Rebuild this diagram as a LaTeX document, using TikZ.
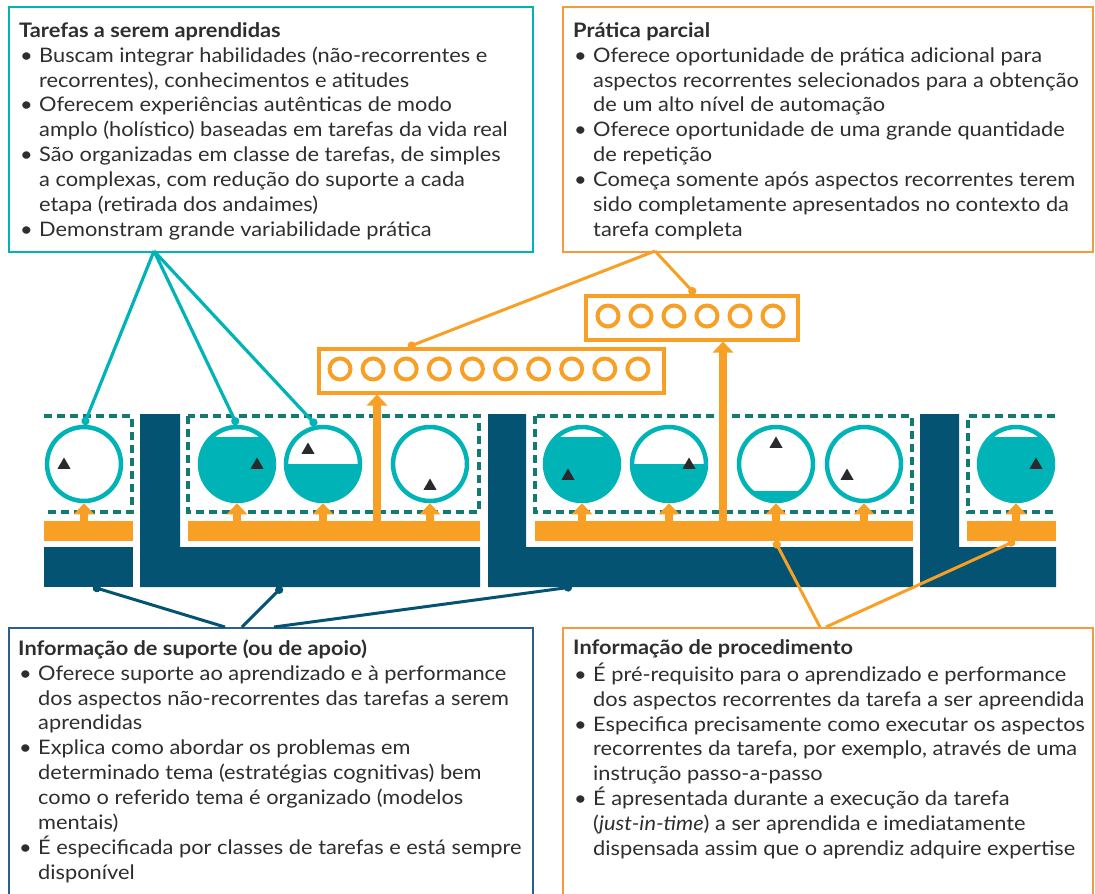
\documentclass[tikz,border=0pt]{standalone}
\usepackage{fontspec}
\setmainfont{Lato}[FakeStretch=1.09]
\usetikzlibrary{arrows.meta, shapes.geometric}

\definecolor{cteal}{HTML}{00B3B6}
\definecolor{cdash}{HTML}{127A70}
\definecolor{cnavy}{HTML}{045372}
\definecolor{cblue}{HTML}{2C5F8C}
\definecolor{corange}{HTML}{F7A025}
\definecolor{cobox}{HTML}{F69A3C}
\definecolor{ctext}{HTML}{2E2E2E}
\definecolor{ctri}{HTML}{2A2A2E}

\newcommand{\bl}{\makebox[20pt][l]{\hspace{1pt}\textbullet}}
\newcommand{\ind}{\hspace*{20pt}}

\begin{document}
\begin{tikzpicture}[x=1pt, y=-1pt,
    txt/.style={anchor=north west, inner sep=0pt, align=left, text=ctext,
        font=\fontsize{20}{24.9}\selectfont},
    infobox/.style={draw=#1, line width=2.2pt, anchor=north west, inner sep=0pt},
    ring/.style={circle, draw=cteal, line width=4.5pt, minimum size=74pt,
        inner sep=0pt, fill=white},
    cfull/.style={ring, path picture={\fill[cteal]
        ([yshift=-10pt]path picture bounding box.north west)
        rectangle (path picture bounding box.south east);}},
    chalf/.style={ring, path picture={\fill[cteal]
        ([yshift=-37pt]path picture bounding box.north west)
        rectangle (path picture bounding box.south east);}},
    clow/.style={ring, path picture={\fill[cteal]
        ([yshift=-64pt]path picture bounding box.north west)
        rectangle (path picture bounding box.south east);}},
    tri/.style={regular polygon, regular polygon sides=3, fill=ctri,
        minimum size=15pt, inner sep=0pt},
    obar/.style={fill=corange, anchor=north west, inner sep=0pt,
        minimum height=20pt},
    obox/.style={draw=corange, line width=3.5pt, anchor=north west, inner sep=0pt},
    pdot/.style={circle, draw=corange, line width=4pt, minimum size=21pt, inner sep=0pt},
    grp/.style={draw=cdash, line width=3.5pt, dash pattern=on 8pt off 5pt},
    up/.style={draw=corange, line width=8pt, -{Triangle[width=20pt, length=11pt]}},
    tline/.style={draw=cteal, line width=3.2pt, -{Circle[length=8pt]}},
    nline/.style={draw=cnavy, line width=3pt, {Circle[length=8pt]}-},
    oline/.style={draw=corange, line width=3pt},
  ]
  \path[fill=white, use as bounding box] (0,0) rectangle (1095,894);
  %
  % text boxes
  \node[infobox=cteal, minimum width=524pt, minimum height=245pt] (tasks) at (8,6) {};
  \node[txt] (tasks-t) at (19,19.6) {\strut\textbf{Tarefas a serem aprendidas}\\
    \bl Buscam integrar habilidades (não-recorrentes e\\
    \ind recorrentes), conhecimentos e atitudes\\
    \bl Oferecem experiências autênticas de modo\\
    \ind amplo (holístico) baseadas em tarefas da vida real\\
    \bl São organizadas em classe de tarefas, de simples\\
    \ind a complexas, com redução do suporte a cada\\
    \ind etapa (retirada dos andaimes)\\
    \bl Demonstram grande variabilidade prática};
  \node[infobox=cobox, minimum width=530pt, minimum height=245pt] (part) at (562,6) {};
  \node[txt] (part-t) at (573,19.6) {\strut\textbf{Prática parcial}\\
    \bl Oferece oportunidade de prática adicional para\\
    \ind aspectos recorrentes selecionados para a obtenção\\
    \ind de um alto nível de automação\\
    \bl Oferece oportunidade de uma grande quantidade\\
    \ind de repetição\\
    \bl Começa somente após aspectos recorrentes terem\\
    \ind sido completamente apresentados no contexto da\\
    \ind tarefa completa};
  \node[infobox=cblue, minimum width=524pt, minimum height=290pt] (sup) at (8,627) {};
  \node[txt] (sup-t) at (18,637.6) {\strut\textbf{Informação de suporte (ou de apoio)}\\
    \bl Oferece suporte ao aprendizado e à performance\\
    \ind dos aspectos não-recorrentes das tarefas a serem\\
    \ind aprendidas\\
    \bl Explica como abordar os problemas em\\
    \ind determinado tema (estratégias cognitivas) bem\\
    \ind como o referido tema é organizado (modelos\\
    \ind mentais)\\
    \bl É especificada por classes de tarefas e está sempre\\
    \ind disponível};
  \node[infobox=cobox, minimum width=530pt, minimum height=290pt] (proc) at (562,627) {};
  \node[txt] (proc-t) at (573,636.6) {\strut\textbf{Informação de procedimento}\\
    \bl É pré-requisito para o aprendizado e performance\\
    \ind dos aspectos recorrentes da tarefa a ser apreendida\\
    \bl Especifica precisamente como executar os aspectos\\
    \ind recorrentes da tarefa, por exemplo, através de uma\\
    \ind instrução passo-a-passo\\
    \bl É apresentada durante a execução da tarefa\\
    \ind (\textit{just-in-time}) a ser aprendida e imediatamente\\
    \ind dispensada assim que o aprendiz adquire expertise};
  %
  % supportive information
  \fill[cnavy] (44,547) rectangle (133,587);
  \fill[cnavy] (140,414) -- (180,414) -- (180,547) -- (480,547) -- (480,587) -- (140,587) -- cycle;
  \fill[cnavy] (488,414) -- (526,414) -- (526,547) -- (913,547) -- (913,587) -- (488,587) -- cycle;
  \fill[cnavy] (920,414) -- (959,414) -- (959,547) -- (1056,547) -- (1056,587) -- (920,587) -- cycle;
  %
  % procedural information
  \node[obar, minimum width=89pt] (ob1) at (44,521) {};
  \node[obar, minimum width=292pt] (ob2) at (188,521) {};
  \node[obar, minimum width=378pt] (ob3) at (535,521) {};
  \node[obar, minimum width=89pt] (ob4) at (967,521) {};
  %
  % task classes
  \draw[grp] (44,416) -- (132,416) -- (132,512) -- (44,512);
  \draw[grp] (188,416) rectangle (479,512);
  \draw[grp] (535,416) rectangle (912,512);
  \draw[grp] (1055,416) -- (968,416) -- (968,512) -- (1055,512);
  %
  % learning tasks
  \node[ring]  (c1) at (84,464) {};
  \node[cfull] (c2) at (237,464) {};
  \node[chalf] (c3) at (323,464) {};
  \node[ring]  (c4) at (430,464) {};
  \node[cfull] (c5) at (582,464) {};
  \node[chalf] (c6) at (669,464) {};
  \node[clow]  (c7) at (776,464) {};
  \node[ring]  (c8) at (864,464) {};
  \node[cfull] (c9) at (1016,464) {};
  \node[tri] (t1) at (64,465) {};
  \node[tri] (t2) at (257,465) {};
  \node[tri] (t3) at (308,450) {};
  \node[tri] (t4) at (430,486) {};
  \node[tri] (t5) at (568,476) {};
  \node[tri] (t6) at (689,465) {};
  \node[tri] (t7) at (776,444) {};
  \node[tri] (t8) at (847,476) {};
  \node[tri] (t9) at (1036,465) {};
  \foreach \c/\b in {c1/ob1, c2/ob2, c3/ob2, c4/ob2, c5/ob3, c6/ob3, c7/ob3, c8/ob3, c9/ob4}
    \draw[up] (\c.south |- \b.north) -- (\c.south);
  %
  % part-task practice
  \node[obox, minimum width=345pt, minimum height=44pt] (pr1) at (317,347) {};
  \node[obox, minimum width=212pt, minimum height=44pt] (pr2) at (584,294) {};
  \foreach \i in {1,...,10}
    \node[pdot] (p\i) at (306.9+33.1*\i,369) {};
  \foreach \i in {1,...,6}
    \node[pdot] (q\i) at (575+33*\i,316) {};
  \coordinate (a1) at ([xshift=60pt]pr1.south west);
  \coordinate (a2) at ([xshift=139pt]pr2.south west);
  \draw[up] (a1 |- ob2.north) -- (a1);
  \draw[up] (a2 |- ob3.north) -- (a2);
  %
  % connectors
  \coordinate (ta) at (154,251);
  \draw[tline] (ta) -- (c1.north);
  \draw[tline] (ta) -- (c2.north);
  \draw[tline] (ta) -- (c3.100);
  \coordinate (pa) at (655,251);
  \coordinate (pd1) at (408,347);
  \coordinate (pd2) at (695,294);
  \draw[oline, -{Circle[length=8pt]}] (pa) -- (pd1);
  \draw[oline, -{Circle[length=8pt]}] (pa) -- (pd2);
  \coordinate (sd1) at (93,587);
  \coordinate (sd2) at (282,587);
  \coordinate (sd3) at (572,587);
  \draw[nline] (sd1) -- (225,627);
  \draw[nline] (sd2) -- (242,627);
  \draw[nline] (sd3) -- (274,627);
  \coordinate (od1) at (775,541);
  \coordinate (od2) at (1015,541);
  \draw[oline, {Circle[length=8pt]}-] (od1) -- (820,627);
  \draw[oline, {Circle[length=8pt]}-] (od2) -- (826,627);
\end{tikzpicture}
\end{document}
